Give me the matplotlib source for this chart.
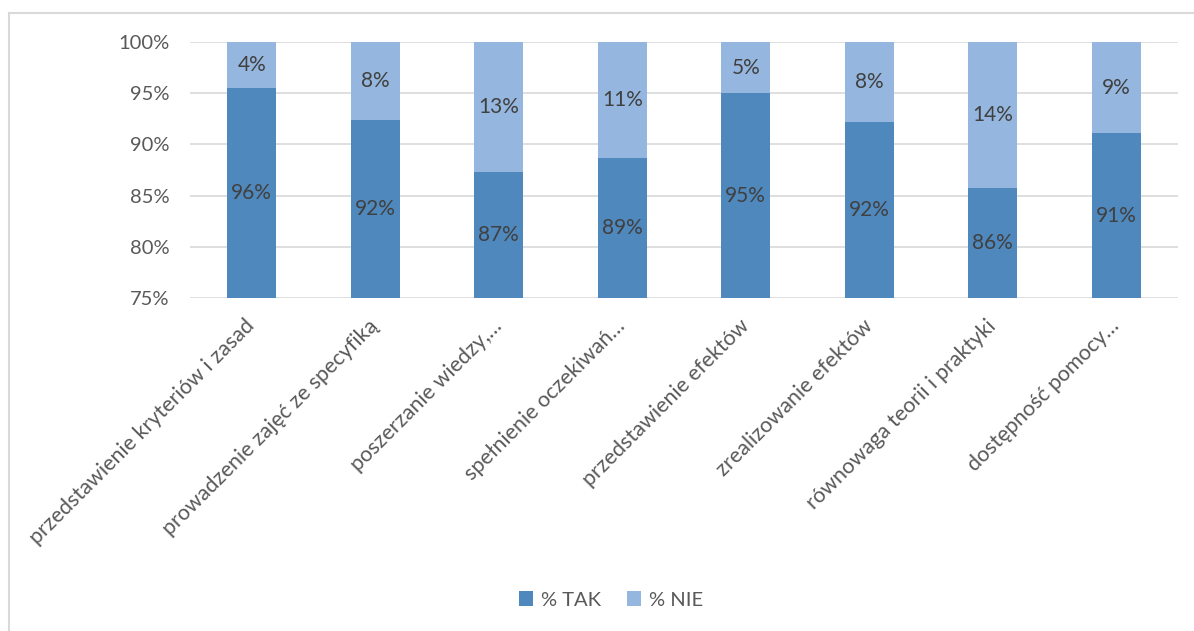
import matplotlib.pyplot as plt
from matplotlib.lines import Line2D

plt.rcParams['font.family'] = ['Lato', 'DejaVu Sans']

# Dane
kategorie = ['przedstawienie kryteriów i zasad', 'prowadzenie zajęć ze specyfiką',
             'poszerzanie wiedzy,…', 'spełnienie oczekiwań…', 'przedstawienie efektów',
             'zrealizowanie efektów', 'równowaga teorii i praktyki', 'dostępność pomocy…']
tak = [95.5, 92.4, 87.3, 88.7, 95.0, 92.2, 85.7, 91.1]
nie = [4.5, 7.6, 12.7, 11.3, 5.0, 7.8, 14.3, 8.9]
tak_labels = ['96%', '92%', '87%', '89%', '95%', '92%', '86%', '91%']
nie_labels = ['4%', '8%', '13%', '11%', '5%', '8%', '14%', '9%']

kolor_tak = '#4F88BD'
kolor_nie = '#95B7DF'

fig = plt.figure(figsize=(11.94, 6.31), dpi=100)
ax = fig.add_axes([190 / 1194, 1 - 298 / 631, 988 / 1194, 256 / 631])

x = list(range(len(kategorie)))
ax.bar(x, tak, width=0.4, color=kolor_tak, label='% TAK', zorder=2)
ax.bar(x, nie, width=0.4, bottom=tak, color=kolor_nie, label='% NIE', zorder=2)

ax.set_ylim(75, 100)
ax.set_xlim(-0.5, len(kategorie) - 0.5)
ax.set_yticks([75, 80, 85, 90, 95, 100])
ax.set_yticklabels(['75%', '80%', '85%', '90%', '95%', '100%'])
ax.grid(axis='y', color='#D9D9D9', linewidth=1.2, zorder=0)
for s in ax.spines.values():
    s.set_visible(False)
ax.tick_params(length=0, labelcolor='#595959')
ax.tick_params(axis='y', pad=15, labelsize=14.5)

ax.set_xticks(x)
ax.set_xticklabels(kategorie, rotation=45, ha='right', va='center',
                   rotation_mode='anchor')
ax.tick_params(axis='x', pad=18, labelsize=15.5)

for i in x:
    ax.text(i, (75 + tak[i]) / 2, tak_labels[i], ha='center', va='center',
            fontsize=15, color='#404040', zorder=3)
    ax.text(i, tak[i] + nie[i] / 2, nie_labels[i], ha='center', va='center',
            fontsize=15, color='#404040', zorder=3)

fig.legend(loc='center', bbox_to_anchor=(611 / 1194, 1 - 600 / 631), ncol=2,
           frameon=False, fontsize=14.5, labelcolor='#595959', handlelength=0.7,
           handleheight=0.7, columnspacing=1.3, handletextpad=0.4)

# ramka wykresu
fig.add_artist(Line2D([8.5 / 1194, 8.5 / 1194], [0, 1 - 13 / 631], color='#D9D9D9',
                      linewidth=1.5, transform=fig.transFigure))
fig.add_artist(Line2D([8.5 / 1194, 1], [1 - 13 / 631, 1 - 13 / 631], color='#D9D9D9',
                      linewidth=1.5, transform=fig.transFigure))

fig.savefig('out.png', dpi=100)
